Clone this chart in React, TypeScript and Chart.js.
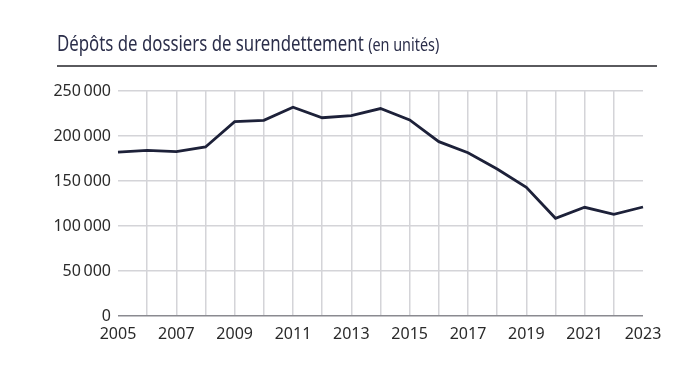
import React, { useEffect, useRef } from "react";
import { Chart, registerables } from "chart.js";

Chart.register(...registerables);

const years = ["2005","2006","2007","2008","2009","2010","2011","2012","2013","2014","2015","2016","2017","2018","2019","2020","2021","2022","2023"];
const depots = [182000,184000,182600,187800,216000,217400,232000,220300,222600,230500,217800,193700,181400,163300,143000,108600,120800,113000,121100];
const yTicks = [0, 50000, 100000, 150000, 200000, 250000];

const FONT = "'Noto Sans', sans-serif";
const NAVY = "#1d2139";

function fmt(v: number): string {
  return String(v).replace(/\B(?=(\d{3})+(?!\d))/g, "\u2009");
}

export default function App() {
  const ref = useRef<HTMLCanvasElement | null>(null);
  useEffect(() => {
    if (!ref.current) return;
    const chart = new Chart(ref.current, {
      type: "line",
      data: {
        labels: years,
        datasets: [{
          data: depots,
          borderColor: NAVY,
          borderWidth: 2.8,
          pointRadius: 0,
          tension: 0,
          fill: false,
        }],
      },
      options: {
        responsive: false,
        animation: false,
        layout: { padding: { left: 0, right: 53, top: 91, bottom: 0 } },
        plugins: { legend: { display: false }, tooltip: { enabled: false } },
        scales: {
          x: {
            type: "category",
            offset: false,
            border: { display: false },
            grid: {
              drawTicks: false,
              lineWidth: 1.5,
              color: (c: any) => (c.index === 0 || c.index === years.length - 1 ? "rgba(0,0,0,0)" : "#d4d4d8"),
            },
            ticks: {
              autoSkip: false,
              maxRotation: 0,
              padding: 9,
              color: "#2a2a2a",
              font: { family: FONT, size: 16 },
              callback: (_v: any, i: number) => (i % 2 === 0 ? years[i] : ""),
            },
            afterFit: (s: any) => { s.height = 59; },
          },
          y: {
            min: 0,
            max: 250000,
            border: { display: false },
            afterBuildTicks: (s: any) => { s.ticks = yTicks.map((v) => ({ value: v })); },
            grid: {
              drawTicks: false,
              lineWidth: 1.5,
              color: (c: any) => (c.tick && c.tick.value === 0 ? "#8a8a90" : "#d4d4d8"),
            },
            ticks: {
              padding: 7,
              color: "#2a2a2a",
              font: { family: FONT, size: 16 },
              callback: (v: any) => fmt(Number(v)),
            },
            afterFit: (s: any) => { s.width = 118; },
          },
        },
      },
    });
    return () => chart.destroy();
  }, []);

  return (
    <div style={{ position: "fixed", left: 0, top: 0, width: 696, height: 375, background: "#fff" }}>
      <canvas ref={ref} width={696} height={375} style={{ position: "absolute", left: 0, top: 0, width: 696, height: 375 }} />
      <div
        style={{
          position: "absolute",
          left: 57,
          top: 31,
          fontFamily: FONT,
          fontSize: 21,
          color: "#2b2e4a",
          whiteSpace: "nowrap",
          lineHeight: "24px",
          transform: "scaleX(0.8)",
          transformOrigin: "0 0",
        }}
      >
        Dépôts de dossiers de surendettement <span style={{ fontSize: 18 }}>(en unités)</span>
      </div>
      <div style={{ position: "absolute", left: 57, top: 65, width: 600, height: 2, background: "#5a5a5e" }} />
    </div>
  );
}
